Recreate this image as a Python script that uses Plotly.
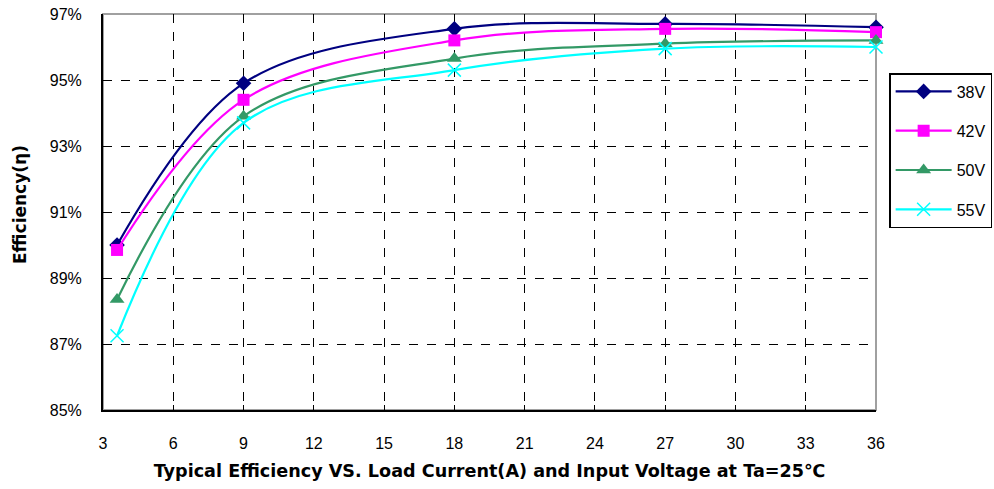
import plotly.graph_objects as go

load_current = [3.6, 9, 18, 27, 36]
series_names = ["38V", "42V", "50V", "55V"]
eff_38v = [90.0, 94.9, 96.55, 96.7, 96.6]
eff_42v = [89.85, 94.4, 96.2, 96.55, 96.45]
eff_50v = [88.35, 93.9, 95.65, 96.1, 96.2]
eff_55v = [87.25, 93.7, 95.3, 95.95, 96.0]
x_ticks = [3, 6, 9, 12, 15, 18, 21, 24, 27, 30, 33, 36]
y_ticks = [85, 87, 89, 91, 93, 95, 97]

colors = ["#000080", "#FF00FF", "#339966", "#00FFFF"]
symbols = ["diamond", "square", "triangle-up", "x-thin"]
sizes = [12, 12, 13, 13]
values = [eff_38v, eff_42v, eff_50v, eff_55v]

fig = go.Figure()
for i, (name, vals) in enumerate(zip(series_names, values)):
    marker = dict(symbol=symbols[i], size=sizes[i], color=colors[i])
    if symbols[i] == "x-thin":
        marker["line"] = dict(color=colors[i], width=1.5)
    fig.add_trace(go.Scatter(
        x=load_current, y=vals, name=name, mode="lines+markers",
        line=dict(color=colors[i], width=2.2, shape="spline", smoothing=1.0),
        marker=marker, cliponaxis=False, legendgroup=name,
    ))

font = "Liberation Sans, Arial, sans-serif"
bold_font = "DejaVu Sans, sans-serif"
fig.update_layout(
    width=994, height=489,
    margin=dict(l=103, r=118, t=14, b=79, autoexpand=False),
    paper_bgcolor="white", plot_bgcolor="white",
    font=dict(family=font, size=16, color="black"),
    showlegend=True,
    legend=dict(
        x=1.017, y=0.851, xanchor="left", yanchor="top",
        bordercolor="black", borderwidth=1.5, bgcolor="white",
        font=dict(family=font, size=16, color="black"),
        traceorder="grouped", tracegroupgap=15.5, itemwidth=56,
    ),
    xaxis=dict(
        range=[3, 36], tickvals=x_ticks, ticktext=[str(v) for v in x_ticks],
        showgrid=True, gridcolor="black", griddash="dash", gridwidth=1,
        showline=True, linecolor="black", linewidth=2,
        ticks="inside", ticklen=5, tickcolor="black", tickwidth=1,
        ticklabelstandoff=18, zeroline=False, automargin=False,
        title=dict(text="<b>Typical Efficiency VS. Load Current(A) and Input Voltage at Ta=25℃</b>",
                   font=dict(family=bold_font, size=17.6), standoff=13),
    ),
    yaxis=dict(
        range=[85, 97], tickvals=y_ticks, ticktext=[f"{v}%" for v in y_ticks],
        showgrid=True, gridcolor="black", griddash="dash", gridwidth=1,
        showline=True, linecolor="black", linewidth=2,
        ticks="inside", ticklen=5, tickcolor="black", tickwidth=1,
        ticklabelstandoff=16, zeroline=False, automargin=False,
    ),
    shapes=[dict(type="rect", xref="paper", yref="paper", x0=0, x1=1, y0=0, y1=1,
                 line=dict(color="#A0A0A0", width=2), layer="between")],
    annotations=[dict(text="<b>Efficiency(η)</b>", xref="paper", yref="paper",
                      x=-83/773, y=(410-205)/396, textangle=-90, showarrow=False,
                      xanchor="center", yanchor="middle",
                      font=dict(family=bold_font, size=17, color="black"))],
)

fig.write_html("out.html")
